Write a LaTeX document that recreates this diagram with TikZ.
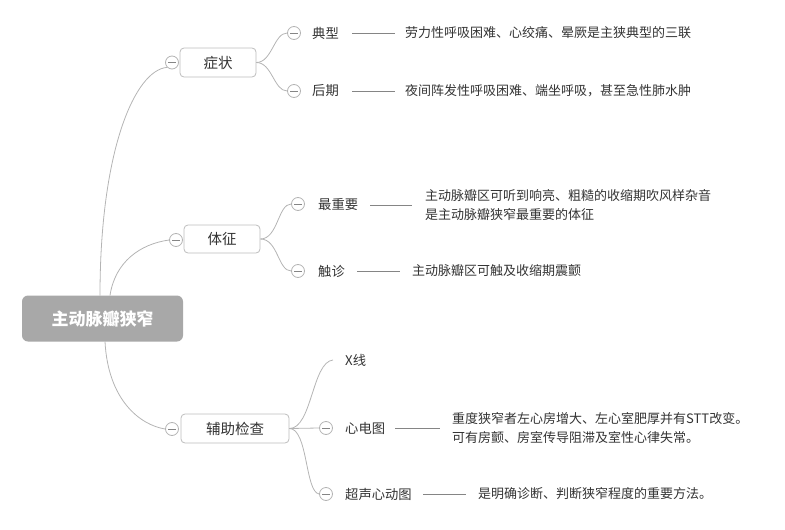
\documentclass[tikz,border=0pt]{standalone}
\usepackage{fontspec}
\setmainfont{Noto Sans CJK SC}
\definecolor{linec}{HTML}{B4B4B4}
\definecolor{boxc}{HTML}{BDBDBD}
\definecolor{txt}{HTML}{333333}
\definecolor{rootc}{HTML}{A8A8A8}
\begin{document}
\begin{tikzpicture}[x=1pt,y=-1pt,
  conn/.style={draw=linec, line width=0.8pt},
  dashc/.style={draw=txt!60, line width=0.6pt},
  rootbox/.style={rectangle, rounded corners=6pt, fill=rootc, text=white, minimum width=161pt, minimum height=46pt, font=\fontsize{17}{20}\selectfont\bfseries},
  topbox/.style={rectangle, rounded corners=4pt, draw=boxc, line width=0.8pt, fill=white, text=txt, minimum height=29pt, font=\fontsize{14.5}{17}\selectfont},
  tog/.style={circle, draw=linec, line width=0.8pt, fill=white, minimum size=13pt, inner sep=0pt,
    path picture={\draw[draw=txt!60, line width=0.7pt] ([xshift=-4pt]path picture bounding box.center) -- ([xshift=4pt]path picture bounding box.center);}},
  lab/.style={anchor=west, text=txt, inner sep=0pt, font=\fontsize{13.3}{16}\selectfont},
  desc/.style={anchor=west, text=txt, inner sep=0pt, align=left, font=\fontsize{13}{19}\selectfont},
]
\useasboundingbox (0,0) rectangle (785,530);

% root
\node[rootbox] (root) at (102.5,318.5) {主动脉瓣狭窄};

% level 1
\node[topbox, minimum width=76pt] (zz) at (218,62.5) {症状};
\node[topbox, minimum width=76pt, minimum height=28pt] (tz) at (222,239) {体征};
\node[topbox, minimum width=108pt] (fz) at (235,428.5) {辅助检查};
\node[tog] (czz) at (172,62.5) {};
\node[tog] (ctz) at (176,240) {};
\node[tog] (cfz) at (172,429) {};

% root connectors
\draw[conn] (100,295.5) .. controls (100,150) and (135,70) .. (czz.south west);
\draw[conn] (110,295.5) .. controls (115,262) and (140,244) .. (ctz.west);
\draw[conn] (105,341.5) .. controls (108,400) and (140,425) .. (cfz.west);

% 症状 children
\node[tog] (c1) at (294,33) {};
\node[tog] (c2) at (294,91) {};
\draw[conn] (zz.east) .. controls (272,62.5) and (274,33) .. (c1.west);
\draw[conn] (zz.east) .. controls (272,62.5) and (274,91) .. (c2.west);
\node[lab] (l1) at (312,33) {典型};
\node[lab] (l2) at (312,91) {后期};
\coordinate (d1a) at (352,33); \coordinate (d1b) at (395,33);
\coordinate (d2a) at (352,91); \coordinate (d2b) at (395,91);
\draw[dashc] (d1a) -- (d1b);
\draw[dashc] (d2a) -- (d2b);
\node[desc] (t1) at (405,33) {劳力性呼吸困难、心绞痛、晕厥是主狭典型的三联};
\node[desc] (t2) at (405,91) {夜间阵发性呼吸困难、端坐呼吸，甚至急性肺水肿};

% 体征 children
\node[tog] (c3) at (298,204) {};
\node[tog] (c4) at (298,271) {};
\draw[conn] (tz.east) .. controls (278,239) and (278,204) .. (c3.west);
\draw[conn] (tz.east) .. controls (278,239) and (278,271) .. (c4.west);
\node[lab] (l3) at (318,204) {最重要};
\node[lab] (l4) at (318,271) {触诊};
\coordinate (d3a) at (370,205); \coordinate (d3b) at (412,205);
\coordinate (d4a) at (357,271); \coordinate (d4b) at (400,271);
\draw[dashc] (d3a) -- (d3b);
\draw[dashc] (d4a) -- (d4b);
\node[desc] (t3) at (425,205) {主动脉瓣区可听到响亮、粗糙的收缩期吹风样杂音\\是主动脉瓣狭窄最重要的体征};
\node[desc] (t4) at (412,271) {主动脉瓣区可触及收缩期震颤};

% 辅助检查 children
\node[lab] (l5) at (345,360) {X线};
\node[tog] (c6) at (326,428) {};
\node[tog] (c7) at (326,494) {};
\draw[conn] (fz.east) .. controls (312,428.5) and (312,362) .. (333,360);
\draw[conn] (fz.east) -- (c6.west);
\draw[conn] (fz.east) .. controls (308,428.5) and (305,492) .. (c7.west);
\node[lab] (l6) at (345,428) {心电图};
\node[lab] (l7) at (345,494) {超声心动图};
\coordinate (d6a) at (395,428); \coordinate (d6b) at (440,428);
\coordinate (d7a) at (423,494); \coordinate (d7b) at (466,494);
\draw[dashc] (d6a) -- (d6b);
\draw[dashc] (d7a) -- (d7b);
\node[desc] (t6) at (452,427.5) {重度狭窄者左心房增大、左心室肥厚并有STT改变。\\可有房颤、房室传导阻滞及室性心律失常。};
\node[desc] (t7) at (478,494) {是明确诊断、判断狭窄程度的重要方法。};
\end{tikzpicture}
\end{document}
